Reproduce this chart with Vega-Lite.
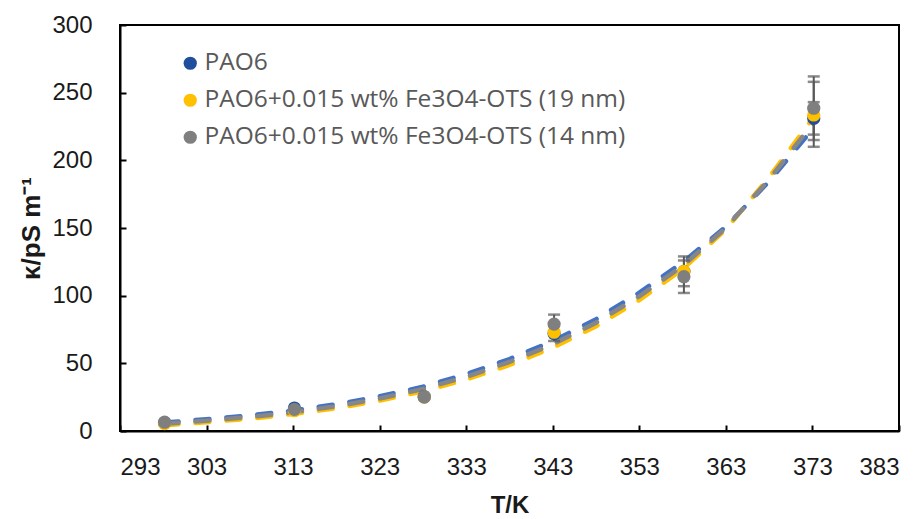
{
  "$schema": "https://vega.github.io/schema/vega-lite/v6.json",
  "width": 779,
  "height": 406,
  "autosize": "none",
  "padding": {"left": 120, "top": 25, "right": 20, "bottom": 88},
  "background": "white",
  "config": {
    "view": {"stroke": "#000000", "strokeWidth": 2},
    "axis": {
      "grid": false,
      "domainColor": "#000000",
      "domainWidth": 2,
      "tickColor": "#000000",
      "tickWidth": 2,
      "tickSize": -6,
      "labelFont": "Liberation Sans",
      "labelFontSize": 24,
      "labelColor": "#1a1a1a",
      "titleFont": "Liberation Sans",
      "titleFontWeight": "bold",
      "titleColor": "#1a1a1a"
    }
  },
  "datasets": {
    "points": [
      {"series": "PAO6", "T": 298.15, "kappa": 6},
      {"series": "PAO6", "T": 313.15, "kappa": 17},
      {"series": "PAO6", "T": 328.15, "kappa": 25.5},
      {"series": "PAO6", "T": 343.15, "kappa": 72},
      {"series": "PAO6", "T": 358.15, "kappa": 118},
      {"series": "PAO6", "T": 373.15, "kappa": 231},
      {"series": "PAO6+0.015 wt% Fe3O4-OTS (19 nm)", "T": 298.15, "kappa": 5.5},
      {"series": "PAO6+0.015 wt% Fe3O4-OTS (19 nm)", "T": 313.15, "kappa": 15},
      {"series": "PAO6+0.015 wt% Fe3O4-OTS (19 nm)", "T": 328.15, "kappa": 25},
      {"series": "PAO6+0.015 wt% Fe3O4-OTS (19 nm)", "T": 343.15, "kappa": 73},
      {"series": "PAO6+0.015 wt% Fe3O4-OTS (19 nm)", "T": 358.15, "kappa": 118},
      {"series": "PAO6+0.015 wt% Fe3O4-OTS (19 nm)", "T": 373.15, "kappa": 233.5},
      {"series": "PAO6+0.015 wt% Fe3O4-OTS (14 nm)", "T": 298.15, "kappa": 6.5},
      {"series": "PAO6+0.015 wt% Fe3O4-OTS (14 nm)", "T": 313.15, "kappa": 16},
      {"series": "PAO6+0.015 wt% Fe3O4-OTS (14 nm)", "T": 328.15, "kappa": 25},
      {"series": "PAO6+0.015 wt% Fe3O4-OTS (14 nm)", "T": 343.15, "kappa": 79},
      {"series": "PAO6+0.015 wt% Fe3O4-OTS (14 nm)", "T": 358.15, "kappa": 114},
      {"series": "PAO6+0.015 wt% Fe3O4-OTS (14 nm)", "T": 373.15, "kappa": 238.5}
    ],
    "errors": [
      {"series": "PAO6", "T": 373.15, "lo": 219, "hi": 243},
      {"series": "PAO6+0.015 wt% Fe3O4-OTS (19 nm)", "T": 343.15, "lo": 66.5, "hi": 79.5},
      {"series": "PAO6+0.015 wt% Fe3O4-OTS (19 nm)", "T": 358.15, "lo": 107, "hi": 129},
      {"series": "PAO6+0.015 wt% Fe3O4-OTS (19 nm)", "T": 373.15, "lo": 210, "hi": 258},
      {"series": "PAO6+0.015 wt% Fe3O4-OTS (14 nm)", "T": 343.15, "lo": 72, "hi": 86},
      {"series": "PAO6+0.015 wt% Fe3O4-OTS (14 nm)", "T": 358.15, "lo": 102, "hi": 126},
      {"series": "PAO6+0.015 wt% Fe3O4-OTS (14 nm)", "T": 373.15, "lo": 215, "hi": 262}
    ],
    "fits": [
      {"curve": "blue", "T": 298.15, "kappa": 6.3},
      {"curve": "blue", "T": 303, "kappa": 8.7},
      {"curve": "blue", "T": 308, "kappa": 11.5},
      {"curve": "blue", "T": 313, "kappa": 15.1},
      {"curve": "blue", "T": 318, "kappa": 19.8},
      {"curve": "blue", "T": 323, "kappa": 25.6},
      {"curve": "blue", "T": 328, "kappa": 32.7},
      {"curve": "blue", "T": 333, "kappa": 42},
      {"curve": "blue", "T": 338, "kappa": 53.2},
      {"curve": "blue", "T": 343, "kappa": 66.4},
      {"curve": "blue", "T": 348, "kappa": 82.6},
      {"curve": "blue", "T": 353, "kappa": 102.2},
      {"curve": "blue", "T": 358, "kappa": 124.5},
      {"curve": "blue", "T": 363, "kappa": 151},
      {"curve": "blue", "T": 368, "kappa": 184.5},
      {"curve": "blue", "T": 373.15, "kappa": 224},
      {"curve": "yellow", "T": 298.15, "kappa": 4.3},
      {"curve": "yellow", "T": 303, "kappa": 6.5},
      {"curve": "yellow", "T": 308, "kappa": 9.1},
      {"curve": "yellow", "T": 313, "kappa": 12.5},
      {"curve": "yellow", "T": 318, "kappa": 16.8},
      {"curve": "yellow", "T": 323, "kappa": 22.4},
      {"curve": "yellow", "T": 328, "kappa": 29.3},
      {"curve": "yellow", "T": 333, "kappa": 38},
      {"curve": "yellow", "T": 338, "kappa": 48.8},
      {"curve": "yellow", "T": 343, "kappa": 61.6},
      {"curve": "yellow", "T": 348, "kappa": 77.4},
      {"curve": "yellow", "T": 353, "kappa": 96.8},
      {"curve": "yellow", "T": 358, "kappa": 119.5},
      {"curve": "yellow", "T": 363, "kappa": 149},
      {"curve": "yellow", "T": 368, "kappa": 187.5},
      {"curve": "yellow", "T": 373.15, "kappa": 232},
      {"curve": "gray", "T": 298.15, "kappa": 5.3},
      {"curve": "gray", "T": 303, "kappa": 7.6},
      {"curve": "gray", "T": 308, "kappa": 10.3},
      {"curve": "gray", "T": 313, "kappa": 13.8},
      {"curve": "gray", "T": 318, "kappa": 18.3},
      {"curve": "gray", "T": 323, "kappa": 24},
      {"curve": "gray", "T": 328, "kappa": 31},
      {"curve": "gray", "T": 333, "kappa": 40},
      {"curve": "gray", "T": 338, "kappa": 51},
      {"curve": "gray", "T": 343, "kappa": 64},
      {"curve": "gray", "T": 348, "kappa": 80},
      {"curve": "gray", "T": 353, "kappa": 99.5},
      {"curve": "gray", "T": 358, "kappa": 122},
      {"curve": "gray", "T": 363, "kappa": 150},
      {"curve": "gray", "T": 368, "kappa": 186},
      {"curve": "gray", "T": 373.15, "kappa": 228}
    ]
  },
  "encoding": {
    "x": {
      "field": "T",
      "type": "quantitative",
      "scale": {"domain": [293, 383], "nice": false, "zero": false},
      "axis": {
        "title": "T/K",
        "titleFontSize": 24,
        "values": [293, 303, 313, 323, 333, 343, 353, 363, 373, 383],
        "labelPadding": 30,
        "titlePadding": 14
      }
    },
    "y": {
      "field": "kappa",
      "type": "quantitative",
      "scale": {"domain": [0, 300], "nice": false},
      "axis": {
        "title": "κ/pS m⁻¹",
        "titleFontSize": 26,
        "values": [0, 50, 100, 150, 200, 250, 300],
        "labelPadding": 34,
        "titlePadding": 7
      }
    }
  },
  "layer": [
    {
      "data": {"name": "fits"},
      "transform": [{"filter": "datum.curve === 'blue'"}],
      "mark": {"type": "line", "color": "#4472C4", "strokeWidth": 4.5, "strokeDash": [14, 17], "strokeCap": "round"},
      "encoding": {}
    },
    {
      "data": {"name": "fits"},
      "transform": [{"filter": "datum.curve === 'yellow'"}],
      "mark": {"type": "line", "color": "#FFC000", "strokeWidth": 4.5, "strokeDash": [14, 17], "strokeCap": "round"},
      "encoding": {}
    },
    {
      "data": {"name": "fits"},
      "transform": [{"filter": "datum.curve === 'gray'"}],
      "mark": {"type": "line", "color": "#878787", "strokeWidth": 4.5, "strokeDash": [14, 17], "strokeCap": "round"},
      "encoding": {}
    },
    {
      "data": {"name": "errors"},
      "mark": {"type": "rule", "color": "#595959", "strokeWidth": 2},
      "encoding": {
        "y": {"field": "lo", "type": "quantitative"},
        "y2": {"field": "hi"}
      }
    },
    {
      "data": {"name": "errors"},
      "mark": {"type": "tick", "orient": "horizontal", "color": "#595959", "size": 12, "thickness": 2.5},
      "encoding": {"y": {"field": "lo", "type": "quantitative"}}
    },
    {
      "data": {"name": "errors"},
      "mark": {"type": "tick", "orient": "horizontal", "color": "#595959", "size": 12, "thickness": 2.5},
      "encoding": {"y": {"field": "hi", "type": "quantitative"}}
    },
    {
      "data": {"name": "points"},
      "mark": {"type": "circle", "size": 175, "opacity": 1},
      "encoding": {
        "color": {
          "field": "series",
          "type": "nominal",
          "scale": {
            "domain": ["PAO6", "PAO6+0.015 wt% Fe3O4-OTS (19 nm)", "PAO6+0.015 wt% Fe3O4-OTS (14 nm)"],
            "range": ["#1F4E9C", "#FFC000", "#7F7F7F"]
          },
          "legend": {
            "title": null,
            "orient": "none",
            "legendX": 58,
            "legendY": 26,
            "padding": 0,
            "symbolType": "circle",
            "symbolSize": 175,
            "symbolStrokeWidth": 0,
            "symbolOpacity": 1,
            "labelFont": "Open Sans",
            "labelFontSize": 24.5,
            "labelColor": "#595959",
            "labelOffset": 2,
            "labelLimit": 600,
            "rowPadding": 12
          }
        }
      }
    }
  ]
}
